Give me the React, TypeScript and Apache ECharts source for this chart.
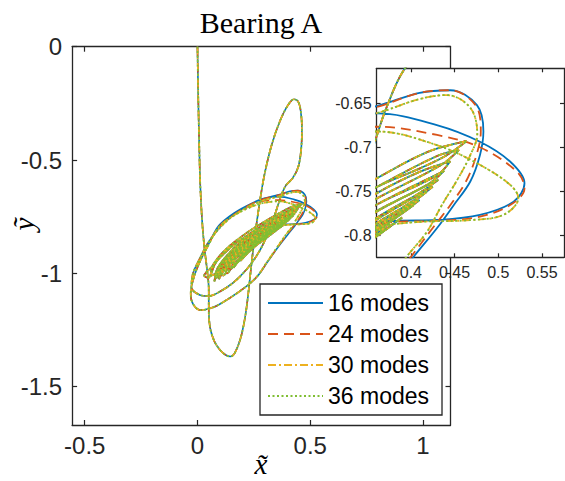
import React, { useEffect, useRef } from "react";
import * as echarts from "echarts";

// ---- tick labels ----
const xTicksMain = [-0.5, 0, 0.5, 1];
const yTicksMain = [0, -0.5, -1, -1.5];
const xTicksInset = [0.4, 0.45, 0.5, 0.55];
const yTicksInset = [-0.65, -0.7, -0.75, -0.8];

const seriesNames = ["16 modes", "24 modes", "30 modes", "36 modes"];
const seriesColors = ["#0072BD", "#D95319", "#EDB120", "#80BE33"];

// ---- transient: start at origin, long drop, lower lobe, upper lobe ----
const transientX = [0, 0.003, 0.007, 0.012, 0.02, 0.03, 0.042, 0.05, 0.05, 0.056, 0.075, 0.1, 0.125, 0.146, 0.165, 0.19, 0.21, 0.224, 0.236, 0.25, 0.265, 0.28, 0.3, 0.33, 0.365, 0.4, 0.428, 0.447, 0.458, 0.463, 0.46, 0.447, 0.422, 0.392, 0.372, 0.36, 0.34, 0.31, 0.27, 0.22, 0.16, 0.1, 0.05, 0.01];
const transientY = [0, -0.2, -0.4, -0.6, -0.76, -0.88, -0.98, -1.07, -1.16, -1.24, -1.3, -1.338, -1.36, -1.367, -1.352, -1.29, -1.2, -1.1, -0.99, -0.87, -0.76, -0.66, -0.55, -0.43, -0.33, -0.26, -0.232, -0.243, -0.285, -0.36, -0.45, -0.53, -0.58, -0.612, -0.655, -0.69, -0.75, -0.83, -0.91, -0.98, -1.04, -1.08, -1.1, -1.095];

// ---- loop B (top near -0.635) per series ----
const loopB16X = [-0.027, -0.02, 0.005, 0.05, 0.12, 0.2, 0.28, 0.3647, 0.41, 0.445, 0.4756, 0.483, 0.479, 0.468, 0.449, 0.43, 0.403, 0.36, 0.31, 0.264, 0.2, 0.13, 0.07, 0.013, -0.02, -0.03];
const loopB16Y = [-1.06, -1.0, -0.945, -0.86, -0.775, -0.715, -0.675, -0.652, -0.638, -0.635, -0.652, -0.682, -0.709, -0.739, -0.766, -0.792, -0.825, -0.88, -0.95, -1.015, -1.07, -1.117, -1.15, -1.162, -1.135, -1.09];
const loopB24X = [-0.027, -0.02, 0.005, 0.05, 0.12, 0.2, 0.28, 0.3647, 0.41, 0.445, 0.474, 0.48, 0.475, 0.463, 0.445, 0.425, 0.4, 0.358, 0.309, 0.263, 0.2, 0.13, 0.07, 0.013, -0.02, -0.03];
const loopB24Y = [-1.06, -1.0, -0.945, -0.86, -0.776, -0.716, -0.676, -0.653, -0.638, -0.635, -0.652, -0.682, -0.709, -0.739, -0.766, -0.792, -0.825, -0.881, -0.951, -1.015, -1.07, -1.117, -1.15, -1.162, -1.135, -1.09];
const loopB30X = [-0.027, -0.02, 0.005, 0.05, 0.12, 0.2, 0.28, 0.3647, 0.41, 0.441, 0.468, 0.476, 0.468, 0.452, 0.436, 0.418, 0.395, 0.355, 0.307, 0.262, 0.2, 0.13, 0.07, 0.013, -0.02, -0.03];
const loopB30Y = [-1.06, -1.0, -0.946, -0.862, -0.778, -0.72, -0.682, -0.66, -0.645, -0.6405, -0.655, -0.685, -0.709, -0.739, -0.765, -0.797, -0.825, -0.882, -0.952, -1.016, -1.07, -1.117, -1.15, -1.162, -1.135, -1.09];
const loopB36X = [-0.027, -0.02, 0.005, 0.05, 0.12, 0.2, 0.28, 0.3647, 0.41, 0.441, 0.468, 0.476, 0.468, 0.452, 0.436, 0.418, 0.395, 0.355, 0.307, 0.262, 0.2, 0.13, 0.07, 0.013, -0.02, -0.03];
const loopB36Y = [-1.06, -1.0, -0.946, -0.862, -0.778, -0.72, -0.682, -0.66, -0.645, -0.6405, -0.655, -0.685, -0.709, -0.739, -0.765, -0.797, -0.825, -0.882, -0.952, -1.016, -1.07, -1.117, -1.15, -1.162, -1.135, -1.09];

// ---- loop A (right tip near 0.53) per series ----
const loopA16X = [-0.02, 0.01, 0.05, 0.094, 0.16, 0.242, 0.3, 0.3616, 0.4297, 0.479, 0.5138, 0.53, 0.5175, 0.479, 0.4297, 0.382, 0.33, 0.26, 0.18, 0.11, 0.06, 0.03];
const loopA16Y = [-1.03, -0.95, -0.87, -0.79, -0.735, -0.69, -0.668, -0.6614, -0.6747, -0.6937, -0.7165, -0.741, -0.762, -0.777, -0.7829, -0.784, -0.79, -0.815, -0.86, -0.92, -0.975, -1.01];
const loopA24X = [-0.02, 0.01, 0.05, 0.094, 0.16, 0.242, 0.3, 0.3616, 0.43, 0.479, 0.5215, 0.53, 0.515, 0.479, 0.43, 0.382, 0.33, 0.26, 0.18, 0.11, 0.06, 0.03];
const loopA24Y = [-1.03, -0.95, -0.872, -0.795, -0.743, -0.7, -0.68, -0.6766, -0.686, -0.7, -0.728, -0.747, -0.765, -0.779, -0.784, -0.785, -0.791, -0.816, -0.861, -0.92, -0.975, -1.01];
const loopA30X = [-0.02, 0.01, 0.05, 0.094, 0.16, 0.242, 0.3, 0.3616, 0.4297, 0.479, 0.5138, 0.523, 0.506, 0.468, 0.41, 0.3616, 0.32, 0.255, 0.178, 0.11, 0.06, 0.03];
const loopA30Y = [-1.03, -0.95, -0.873, -0.797, -0.746, -0.705, -0.688, -0.682, -0.6975, -0.72, -0.743, -0.758, -0.777, -0.783, -0.785, -0.79, -0.797, -0.82, -0.863, -0.921, -0.975, -1.01];
const loopA36X = [-0.02, 0.01, 0.05, 0.094, 0.16, 0.242, 0.3, 0.3616, 0.4297, 0.479, 0.5138, 0.523, 0.506, 0.468, 0.41, 0.3616, 0.32, 0.255, 0.178, 0.11, 0.06, 0.03];
const loopA36Y = [-1.03, -0.95, -0.873, -0.797, -0.746, -0.705, -0.688, -0.682, -0.6975, -0.72, -0.743, -0.758, -0.777, -0.783, -0.785, -0.79, -0.797, -0.82, -0.863, -0.921, -0.975, -1.01];

// ---- settling band of narrow loops (shared) ----
const bandX = [
  0.05, 0.07, 0.13, 0.22, 0.3, 0.3616, 0.42, 0.464, 0.441, 0.4105, 0.3616, 0.3, 0.22, 0.15, 0.1, 0.08,
  0.06, 0.08, 0.14, 0.225, 0.3, 0.3616, 0.43, 0.455, 0.435, 0.3616, 0.295, 0.215, 0.145, 0.1,
  0.075, 0.09, 0.15, 0.23, 0.31, 0.3616, 0.41, 0.445, 0.43, 0.3616, 0.29, 0.21, 0.14, 0.1,
  0.085, 0.1, 0.16, 0.24, 0.32, 0.3616, 0.438, 0.42, 0.3616, 0.285, 0.205, 0.14, 0.11,
  0.095, 0.11, 0.17, 0.25, 0.33, 0.3616, 0.4316, 0.41, 0.3616, 0.28, 0.2, 0.14, 0.115,
  0.11, 0.13, 0.19, 0.28, 0.3616, 0.425, 0.405, 0.3616, 0.285, 0.21, 0.155, 0.13,
  0.125, 0.15, 0.21, 0.3, 0.3616, 0.418, 0.395, 0.3616, 0.29, 0.22, 0.17, 0.14,
  0.14, 0.16, 0.23, 0.31, 0.3616, 0.41, 0.39, 0.3616, 0.29, 0.22, 0.17,
  0.15, 0.17, 0.24, 0.32, 0.3616, 0.403, 0.38, 0.3616, 0.3, 0.23, 0.18, 0.16,
  0.17, 0.2, 0.27, 0.3616, 0.39, 0.37, 0.3, 0.24, 0.19,
  0.2, 0.24, 0.3, 0.37, 0.34, 0.28, 0.22,
  0.23, 0.29, 0.35, 0.32, 0.26, 0.24,
];
const bandY = [
  -1.02, -0.96, -0.89, -0.82, -0.77, -0.735, -0.705, -0.693, -0.709, -0.724, -0.745, -0.78, -0.84, -0.9, -0.96, -1.0,
  -1.01, -0.955, -0.89, -0.83, -0.78, -0.745, -0.71, -0.703, -0.72, -0.758, -0.795, -0.855, -0.92, -0.98,
  -1.035, -0.975, -0.905, -0.84, -0.785, -0.752, -0.728, -0.716, -0.732, -0.765, -0.81, -0.87, -0.94, -1.0,
  -1.02, -0.97, -0.905, -0.845, -0.79, -0.765, -0.727, -0.742, -0.773, -0.822, -0.885, -0.955, -1.0,
  -1.025, -0.97, -0.905, -0.845, -0.79, -0.772, -0.737, -0.752, -0.78, -0.835, -0.9, -0.965, -1.01,
  -1.0, -0.955, -0.895, -0.835, -0.782, -0.745, -0.76, -0.786, -0.84, -0.905, -0.97, -1.0,
  -0.99, -0.94, -0.885, -0.825, -0.787, -0.751, -0.768, -0.792, -0.84, -0.9, -0.955, -0.99,
  -0.985, -0.94, -0.88, -0.825, -0.79, -0.76, -0.775, -0.795, -0.845, -0.905, -0.96,
  -0.98, -0.935, -0.875, -0.82, -0.795, -0.766, -0.782, -0.798, -0.84, -0.9, -0.95, -0.975,
  -0.96, -0.92, -0.865, -0.8, -0.78, -0.795, -0.845, -0.895, -0.945,
  -0.935, -0.89, -0.845, -0.795, -0.81, -0.855, -0.91,
  -0.9, -0.855, -0.81, -0.83, -0.87, -0.885,
];

function zip(xs: number[], ys: number[]) {
  return xs.map((x, i) => [x, ys[i]]);
}

const pathData = [
  [...zip(transientX, transientY), ...zip(loopB16X, loopB16Y), ...zip(loopA16X, loopA16Y), ...zip(bandX, bandY)],
  [...zip(transientX, transientY), ...zip(loopB24X, loopB24Y), ...zip(loopA24X, loopA24Y), ...zip(bandX, bandY)],
  [...zip(transientX, transientY), ...zip(loopB30X, loopB30Y), ...zip(loopA30X, loopA30Y), ...zip(bandX, bandY)],
  [...zip(transientX, transientY), ...zip(loopB36X, loopB36Y), ...zip(loopA36X, loopA36Y), ...zip(bandX, bandY)],
];

const dashTypes: any[] = ["solid", [10, 6], [8, 3, 2, 3], [2, 2.5]];
const mainWidths = [1.6, 1.6, 1.6, 1.8];

const AX = "#262626";

function makeAxis(opts: any) {
  const { gridIndex, position, min, max, ticks, labels, fontSize, margin, z, tickLen } = opts;
  return {
    type: "value",
    gridIndex,
    position,
    min,
    max,
    z,
    splitLine: { show: false },
    axisLine: { show: true, onZero: false, lineStyle: { color: AX, width: 1.3 } },
    axisTick: { show: true, inside: true, length: tickLen, customValues: ticks, lineStyle: { color: AX, width: 1.2 } },
    axisLabel: {
      show: labels,
      customValues: ticks,
      formatter: (v: number) => String(v),
      color: AX,
      fontFamily: "Liberation Sans",
      fontSize,
      margin,
    },
  };
}

export default function App() {
  const ref = useRef<HTMLDivElement>(null);
  useEffect(() => {
    if (!ref.current) return;
    const chart = echarts.init(ref.current, null, { renderer: "svg" });
    const mainX = [-0.556, 1.122];
    const mainY = [-1.669, 0];
    const insX = [0.3608, 0.5752];
    const insY = [-0.8254, -0.61];

    const series: any[] = [];
    seriesNames.forEach((name, i) => {
      series.push({
        type: "line",
        name,
        data: pathData[i],
        xAxisIndex: 0,
        yAxisIndex: 0,
        symbol: "none",
        smooth: 0.35,
        clip: true,
        z: 2 + i,
        itemStyle: { color: seriesColors[i] },
        lineStyle: { color: seriesColors[i], width: mainWidths[i], type: dashTypes[i] },
      });
    });
    seriesNames.forEach((name, i) => {
      series.push({
        type: "line",
        name,
        data: pathData[i],
        xAxisIndex: 2,
        yAxisIndex: 2,
        symbol: "none",
        smooth: 0.35,
        clip: true,
        z: 12 + i,
        itemStyle: { color: seriesColors[i] },
        lineStyle: { color: seriesColors[i], width: 1.8, type: dashTypes[i] },
      });
    });

    chart.setOption({
      animation: false,
      backgroundColor: "#fff",
      grid: [
        { left: 72.1, top: 46.7, width: 378.4, height: 378.3, outerBoundsMode: "none" },
        { left: 376.6, top: 68.3, width: 187.4, height: 189, outerBoundsMode: "none" },
      ],
      xAxis: [
        makeAxis({ gridIndex: 0, position: "bottom", min: mainX[0], max: mainX[1], ticks: xTicksMain, labels: true, fontSize: 24, margin: 8, z: 0, tickLen: 5 }),
        makeAxis({ gridIndex: 0, position: "top", min: mainX[0], max: mainX[1], ticks: xTicksMain, labels: false, fontSize: 24, margin: 8, z: 0, tickLen: 5 }),
        makeAxis({ gridIndex: 1, position: "bottom", min: insX[0], max: insX[1], ticks: xTicksInset, labels: true, fontSize: 16, margin: 7, z: 11, tickLen: 4 }),
        makeAxis({ gridIndex: 1, position: "top", min: insX[0], max: insX[1], ticks: xTicksInset, labels: false, fontSize: 16, margin: 7, z: 11, tickLen: 4 }),
      ],
      yAxis: [
        makeAxis({ gridIndex: 0, position: "left", min: mainY[0], max: mainY[1], ticks: yTicksMain, labels: true, fontSize: 24, margin: 10, z: 0, tickLen: 5 }),
        makeAxis({ gridIndex: 0, position: "right", min: mainY[0], max: mainY[1], ticks: yTicksMain, labels: false, fontSize: 24, margin: 10, z: 0, tickLen: 5 }),
        makeAxis({ gridIndex: 1, position: "left", min: insY[0], max: insY[1], ticks: yTicksInset, labels: true, fontSize: 16, margin: 5, z: 11, tickLen: 4 }),
        makeAxis({ gridIndex: 1, position: "right", min: insY[0], max: insY[1], ticks: yTicksInset, labels: false, fontSize: 16, margin: 5, z: 11, tickLen: 4 }),
      ],
      legend: {
        data: seriesNames,
        orient: "vertical",
        left: 260,
        top: 284,
        padding: [7, 13, 7, 7],
        itemWidth: 55,
        itemHeight: 16,
        itemGap: 7,
        backgroundColor: "#fff",
        borderColor: AX,
        borderWidth: 1.3,
        borderRadius: 0,
        selectedMode: false,
        z: 20,
        itemStyle: { opacity: 0 },
        lineStyle: { width: 2 },
        textStyle: { fontSize: 23, fontFamily: "Liberation Sans", color: "#000", lineHeight: 24 },
      },
      graphic: [
        {
          type: "rect",
          z: 10,
          silent: true,
          shape: { x: 376.6, y: 68.3, width: 187.4, height: 189 },
          style: { fill: "#fff" },
        },
        {
          type: "text",
          x: 261,
          y: 22,
          style: { text: "Bearing A", font: "30px 'Liberation Serif'", fill: "#000", align: "center", verticalAlign: "middle" },
        },
        {
          type: "text",
          x: 261,
          y: 464,
          style: { text: "x\u0303", font: "italic 29px 'Liberation Serif'", fill: "#000", align: "center", verticalAlign: "middle" },
        },
        {
          type: "text",
          x: 24,
          y: 224,
          rotation: Math.PI / 2,
          style: { text: "\u1EF9", font: "italic 29px 'Liberation Serif'", fill: "#000", align: "center", verticalAlign: "middle" },
        },
      ],
      series,
    });
    return () => chart.dispose();
  }, []);
  return <div ref={ref} style={{ position: "fixed", left: 0, top: 0, width: 565, height: 481 }} />;
}
